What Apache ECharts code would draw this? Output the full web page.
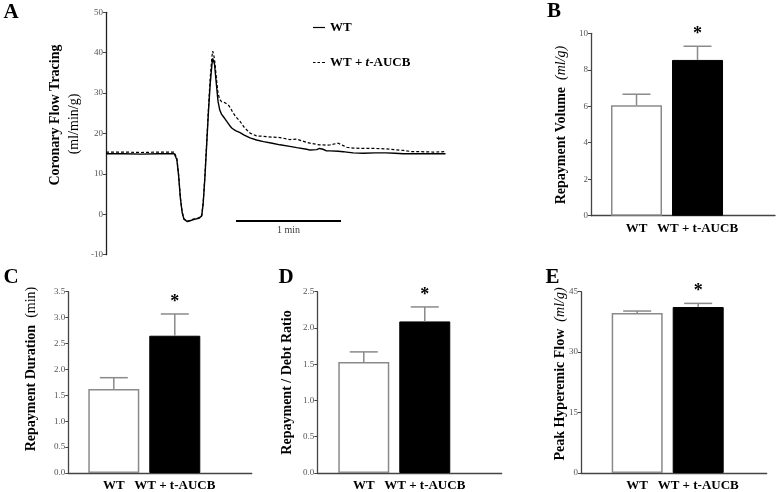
<!DOCTYPE html>
<html>
<head>
<meta charset="utf-8">
<script src="https://cdn.jsdelivr.net/npm/echarts@6/dist/echarts.min.js"></script>
<style>html,body{margin:0;padding:0;background:#fff}#c{width:777px;height:492px}</style>
</head>
<body>
<div id="c"></div>
<script>
// ---------- Panel A: coronary flow tracing ----------
const traceTime = [0,10,20,30,39,40.5,41.5,42.5,43.5,44.5,46.5,48,50,53,54.7,55.5,56.5,57.5,58.5,59.5,60.5,61,62,63,64,65,66,67,68,69,70,71,72,74,76.6,79,82.3,86,90,95,99.4,105,109,114.7,116.6,120.4,122,124,126,128,132.7,135.6,137.5,141.3,147,153.7,160,165,170,175,180,187,194];
const wtFlow = [15.0,15.0,14.9,15.0,15.0,13.5,9.5,4,0.5,-1.2,-1.8,-1.6,-1.3,-1.0,-0.4,2.5,9,17,25,32,37,38.6,37.2,32.5,28,25.8,24.8,24.2,23.6,23.0,22.4,21.8,21.3,20.7,20.2,19.6,18.9,18.4,18.0,17.6,17.2,16.8,16.5,16.1,15.9,16.0,16.3,16.1,15.7,15.7,15.6,15.5,15.4,15.2,15.1,15.2,15.2,15.1,15.0,15.0,15.0,15.0,15.0];
const aucbFlow = [15.4,15.4,15.3,15.4,15.4,13.8,9.8,4.2,0.6,-1.1,-1.7,-1.5,-1.2,-0.9,-0.3,2.8,9.5,17.5,26,33.5,39,40.4,38.5,34,30,28.4,27.9,27.8,27.6,27.3,27.0,26.4,25.6,24.2,23.0,21.5,20.1,19.4,19.3,19.1,19.0,18.5,18.6,17.8,17.6,17.3,17.2,17.2,17.1,17.2,17.6,17.0,16.6,16.4,16.3,16.3,16.2,16.0,15.8,15.5,15.5,15.4,15.5];
const traceYTicks = {min: -10, max: 50, interval: 10};
const scaleBarStart = 74.3;   // seconds
const scaleBarLength = 60;    // 1 min
const scaleBarLevel = -1.65;
const scaleBarLabel = '1 min';

// ---------- Bar panels ----------
const groups = ['WT', 'WT + t-AUCB'];
const groupPos = [1, 2];
const volMean = [6.05, 8.54], volErr = [0.61, 0.75], volSig = [false, true];
const durMean = [1.62, 2.65], durErr = [0.22, 0.42], durSig = [false, true];
const ratioMean = [1.53, 2.09], ratioErr = [0.14, 0.20], ratioSig = [false, true];
const peakMean = [39.7, 41.2], peakErr = [0.5, 0.9], peakSig = [false, true];
const volTicks = {min: 0, max: 10, interval: 2};
const durTicks = {min: 0, max: 3.5, interval: 0.5};
const ratioTicks = {min: 0, max: 2.5, interval: 0.5};
const peakTicks = {min: 0, max: 45, interval: 15};

const SERIF = 'Liberation Serif, Times New Roman, serif';
const chart = echarts.init(document.getElementById('c'));

const grids = [
  {left: 106, top: 12.3, width: 339.5, height: 242.4},
  {left: 591, top: 33.3, width: 184, height: 182.4},
  {left: 68.3, top: 291.7, width: 183.4, height: 182.6},
  {left: 317.3, top: 291.7, width: 184.4, height: 182.6},
  {left: 581, top: 291.7, width: 185.7, height: 182.6}
];
const xRanges = [null, [0.254, 3.27], [0.254, 3.261], [0.238, 3.261], [0.079, 3.123]];

function yAxisFor(idx, t, fmt) {
  return {
    type: 'value', gridIndex: idx, min: t.min, max: t.max, interval: t.interval,
    axisLine: {show: true, lineStyle: {color: idx === 0 ? '#222' : '#444', width: 1.3}},
    axisTick: {show: true, length: 3, lineStyle: {color: '#444'}},
    axisLabel: {color: '#555', fontSize: 9, fontFamily: SERIF, margin: 3, formatter: fmt},
    splitLine: {show: false}
  };
}
function xAxisFor(idx) {
  return {
    type: 'value', gridIndex: idx, min: xRanges[idx][0], max: xRanges[idx][1],
    axisLine: {show: true, onZero: false, lineStyle: {color: '#444', width: 1.3}},
    axisTick: {show: false},
    splitLine: {show: false},
    axisLabel: {
      customValues: groupPos, color: '#000', fontSize: 13, fontWeight: 'bold', fontFamily: SERIF, margin: 6,
      formatter: v => groups[groupPos.indexOf(v)] || ''
    }
  };
}
function barSeries(idx, means) {
  return {
    type: 'bar', xAxisIndex: idx, yAxisIndex: idx, barWidth: 51,
    data: means.map((m, i) => ({
      value: [groupPos[i], m],
      itemStyle: i === 0 ? {color: '#fff', borderColor: '#8a8a8a', borderWidth: 1.5}
                         : {color: '#000', borderColor: '#000', borderWidth: 1}
    })),
    silent: true
  };
}
function errSeries(idx, means, errs, sig) {
  return {
    type: 'custom', xAxisIndex: idx, yAxisIndex: idx, silent: true, z: 5,
    data: means.map((m, i) => [groupPos[i], m, errs[i], sig[i] ? 1 : 0]),
    renderItem: function (params, api) {
      const x = api.value(0), m = api.value(1), e = api.value(2), s = api.value(3);
      const p0 = api.coord([x, m]);
      const p1 = api.coord([x, m + e]);
      const children = [
        {type: 'line', shape: {x1: p0[0], y1: p0[1], x2: p1[0], y2: p1[1]}, style: {stroke: '#8a8a8a', lineWidth: 1.5}},
        {type: 'line', shape: {x1: p1[0] - 14, y1: p1[1], x2: p1[0] + 14, y2: p1[1]}, style: {stroke: '#8a8a8a', lineWidth: 1.5}}
      ];
      if (s) {
        children.push({type: 'text', x: p1[0], y: p1[1] - 3,
          style: {text: '*', fill: '#000', font: 'bold 18px ' + SERIF, textAlign: 'center', textVerticalAlign: 'bottom'}});
      }
      return {type: 'group', children: children};
    }
  };
}

function vText(x, y, rich, text) {
  return {type: 'text', x: x, y: y, rotation: Math.PI / 2,
    style: {text: text, rich: rich, align: 'center', verticalAlign: 'middle', fill: '#000', font: 'bold 14px ' + SERIF}};
}
const titleRich = {
  b: {fontFamily: SERIF, fontSize: 14, fontWeight: 'bold', fill: '#000'},
  n: {fontFamily: SERIF, fontSize: 14, fontWeight: 'normal', fill: '#000'},
  i: {fontFamily: SERIF, fontSize: 14, fontStyle: 'italic', fill: '#000'}
};
function letter(x, y, t) {
  return {type: 'text', x: x, y: y, style: {text: t, font: 'bold 21px ' + SERIF, fill: '#000', align: 'center', verticalAlign: 'middle'}};
}

const option = {
  backgroundColor: '#fff',
  animation: false,
  grid: grids,
  xAxis: [
    {type: 'value', gridIndex: 0, min: 0, max: 194, show: false},
    xAxisFor(1), xAxisFor(2), xAxisFor(3), xAxisFor(4)
  ],
  yAxis: [
    yAxisFor(0, traceYTicks),
    yAxisFor(1, volTicks),
    yAxisFor(2, durTicks, v => v.toFixed(1)),
    yAxisFor(3, ratioTicks, v => v.toFixed(1)),
    yAxisFor(4, peakTicks)
  ],
  legend: {
    data: [
      {name: 'WT', icon: 'path://M0,5L12,5L12,6.2L0,6.2Z'},
      {name: 'WT + t-AUCB', icon: 'path://M0,5H2.5V6H0Z M4.5,5H7V6H4.5Z M9,5H12V6H9Z'}
    ],
    orient: 'vertical', left: 308, top: 16,
    itemWidth: 12, itemHeight: 10, itemGap: 22,
    itemStyle: {color: '#000', borderWidth: 0},
    textStyle: {fontFamily: SERIF, fontSize: 13, fontWeight: 'bold', color: '#000',
      rich: {b: {fontFamily: SERIF, fontSize: 13, fontWeight: 'bold'}, i: {fontFamily: SERIF, fontSize: 13, fontWeight: 'bold', fontStyle: 'italic'}}},
    formatter: n => n === 'WT' ? '{b|WT}' : '{b|WT + }{i|t}{b|-AUCB}'
  },
  series: [
    {name: 'WT', type: 'line', xAxisIndex: 0, yAxisIndex: 0, showSymbol: false, symbol: 'none',
     data: traceTime.map((t, i) => [t, wtFlow[i]]), lineStyle: {color: '#000', width: 1.4}, itemStyle: {color: '#000'}, z: 3},
    {name: 'WT + t-AUCB', type: 'line', xAxisIndex: 0, yAxisIndex: 0, showSymbol: false, symbol: 'none',
     data: traceTime.map((t, i) => [t, aucbFlow[i]]), lineStyle: {color: '#000', width: 1.2, type: [3, 2]}, itemStyle: {color: '#000'}, z: 2},
    {name: 'scale', type: 'line', xAxisIndex: 0, yAxisIndex: 0, showSymbol: false, symbol: 'none',
     data: [[scaleBarStart, scaleBarLevel], [scaleBarStart + scaleBarLength, scaleBarLevel]],
     lineStyle: {color: '#000', width: 2}},
    {name: 'scaleLabel', type: 'scatter', xAxisIndex: 0, yAxisIndex: 0, symbolSize: 0,
     data: [[scaleBarStart + scaleBarLength / 2, scaleBarLevel]],
     label: {show: true, position: 'bottom', distance: 4, formatter: scaleBarLabel, fontFamily: SERIF, fontSize: 10, color: '#000'}},
    barSeries(1, volMean), errSeries(1, volMean, volErr, volSig),
    barSeries(2, durMean), errSeries(2, durMean, durErr, durSig),
    barSeries(3, ratioMean), errSeries(3, ratioMean, ratioErr, ratioSig),
    barSeries(4, peakMean), errSeries(4, peakMean, peakErr, peakSig)
  ],
  graphic: [
    letter(11, 13, 'A'), letter(554, 12, 'B'), letter(11, 277.5, 'C'), letter(286, 277.5, 'D'), letter(552.5, 277.5, 'E'),
    {type: 'text', x: 55, y: 115, rotation: Math.PI / 2, style: {text: 'Coronary Flow Tracing', font: 'bold 14px ' + SERIF, fill: '#000', align: 'center', verticalAlign: 'middle'}},
    {type: 'text', x: 74, y: 124, rotation: Math.PI / 2, style: {text: '(ml/min/g)', font: '14px ' + SERIF, fill: '#000', align: 'center', verticalAlign: 'middle'}},
    vText(561, 125, titleRich, '{b|Repayment Volume}  {i|(ml/g)}'),
    vText(31.5, 369, titleRich, '{b|Repayment Duration}  {n|(min)}'),
    vText(287.5, 382.5, titleRich, '{b|Repayment / Debt Ratio}'),
    vText(560, 374, titleRich, '{b|Peak Hyperemic Flow}  {i|(ml/g)}')
  ]
};
chart.setOption(option);
</script>
</body>
</html>
